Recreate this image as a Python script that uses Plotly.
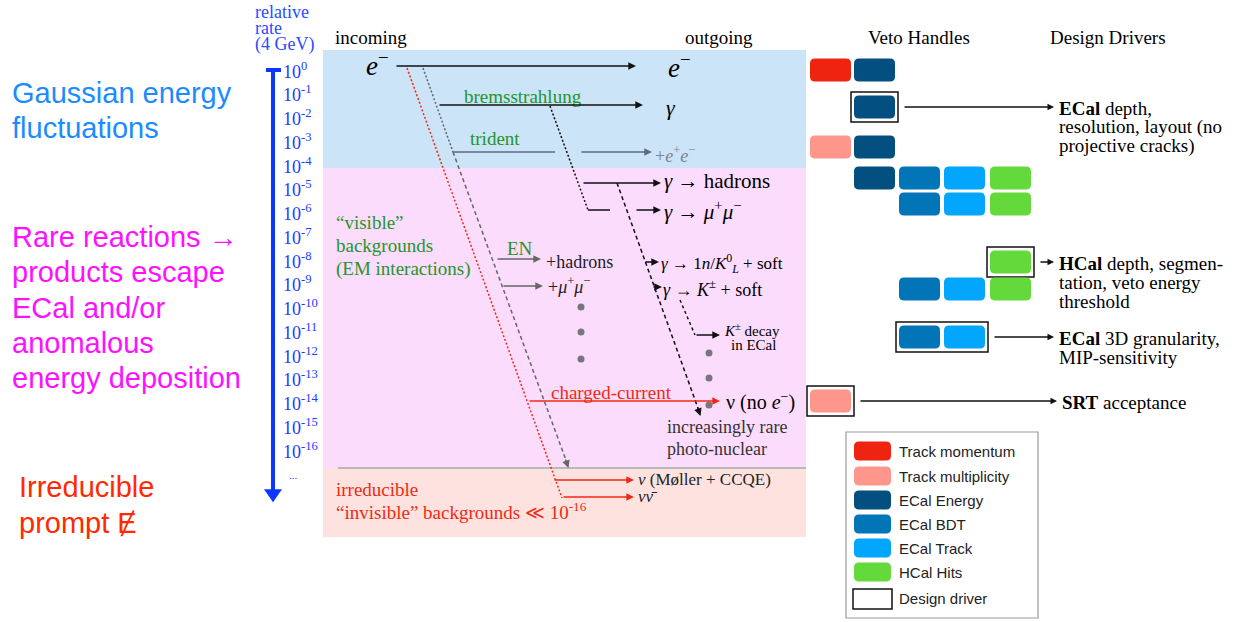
import plotly.graph_objects as go

W, H = 1241, 622
SERIF = "Liberation Serif"
SANS = "Liberation Sans"

# ---------------- data ----------------
rate_exponents = list(range(0, -17, -1))
rate_labels = [f"10<sup>{e}</sup>" for e in rate_exponents]
rate_axis_title = ["relative", "rate", "(4 GeV)"]

column_headers = ["incoming", "outgoing", "Veto Handles", "Design Drivers"]

side_notes_blue = ["Gaussian energy", "fluctuations"]
side_notes_magenta = ["Rare reactions \u2192", "products escape", "ECal and/or", "anomalous", "energy deposition"]
side_notes_red = ["Irreducible", "prompt \u0246"]

handle_names = ["Track momentum", "Track multiplicity", "ECal Energy", "ECal BDT", "ECal Track", "HCal Hits"]
handle_colors = ["#ee2410", "#fe968c", "#024f80", "#0275b8", "#03a6fd", "#63d93b"]

# which handle category sits in each slot of each row (None = empty)
veto_row_slots = [
    [0, 2, None, None, None],
    [None, 2, None, None, None],
    [1, 2, None, None, None],
    [None, 2, 3, 4, 5],
    [None, None, 3, 4, 5],
    [None, None, None, None, 5],
    [None, None, 3, 4, 5],
    [None, None, 3, 4, None],
    [1, None, None, None, None],
]
veto_row_framed = [False, True, False, False, False, True, False, True, True]
design_driver_rows = [1, 5, 7, 8]
design_driver_texts = [
    ["<b>ECal</b> depth,", "resolution, layout (no", "projective cracks)"],
    ["<b>HCal</b> depth, segmen-", "tation, veto energy", "threshold"],
    ["<b>ECal</b> 3D granularity,", "MIP-sensitivity"],
    ["<b>SRT</b> acceptance"],
]

# ---------------- layout constants ----------------
veto_row_y = [70, 107, 147, 178, 204, 262, 289, 337, 401]
slot_x = [810, 854, 899, 944, 990]
SLOT_W, SLOT_H = 41, 23

shapes = []
annotations = []


def text(x, y, s, size=19, color="black", family=SERIF, anchor="left", yref="y"):
    annotations.append(dict(x=x, y=y, xref="x", yref=yref, text=s, showarrow=False,
                            xanchor=anchor, yanchor="middle",
                            font=dict(family=family, size=size, color=color)))


def lines_text(x, y0, lines, dy, **kw):
    for i, s in enumerate(lines):
        text(x, y0 + i * dy, s, **kw)


def line(x0, y0, x1, y1, color="#111", width=1.5, dash="solid", yref="y"):
    shapes.append(dict(type="line", xref="x", yref=yref, x0=x0, y0=y0, x1=x1, y1=y1,
                       line=dict(color=color, width=width, dash=dash)))


def arrow(x0, y0, x1, y1, color="#111", width=1.4, size=1.1):
    annotations.append(dict(x=x1, y=y1, ax=x0, ay=y0, xref="x", yref="y", axref="x", ayref="y",
                            text="", showarrow=True, arrowhead=2, arrowsize=size,
                            arrowwidth=width, arrowcolor=color))


def rrect(x0, y0, x1, y1, r, fill, lc=None, lw=0):
    p = (f"M {x0+r},{y0} L {x1-r},{y0} Q {x1},{y0} {x1},{y0+r} L {x1},{y1-r} "
         f"Q {x1},{y1} {x1-r},{y1} L {x0+r},{y1} Q {x0},{y1} {x0},{y1-r} "
         f"L {x0},{y0+r} Q {x0},{y0} {x0+r},{y0} Z")
    shapes.append(dict(type="path", path=p, xref="x", yref="y", fillcolor=fill,
                       line=dict(color=lc if lc else fill, width=lw if lc else 0)))


def rect(x0, y0, x1, y1, fill="rgba(0,0,0,0)", lc="rgba(0,0,0,0)", lw=0, layer="above"):
    shapes.append(dict(type="rect", xref="x", yref="y", x0=x0, y0=y0, x1=x1, y1=y1,
                       fillcolor=fill, line=dict(color=lc, width=lw), layer=layer))


# ---------------- background regions ----------------
rect(323, 50, 806, 168, fill="#cce4f8", layer="below")
rect(323, 168, 806, 468, fill="#fcdcfd", layer="below")
rect(323, 468, 806, 537, fill="#fde2e0", layer="below")
line(338, 468, 806, 468, color="#b8b8b8", width=2)

# ---------------- rate axis (y2 = log10 rate) ----------------
AXC = "#0a36ff"
line(273, 0.05, 273, -17.75, color=AXC, width=4, yref="y2")
line(266, 0, 281, 0, color=AXC, width=4, yref="y2")
shapes.append(dict(type="path", xref="x", yref="y2",
                   path="M 264,-17.65 L 282,-17.65 L 273,-18.2 Z",
                   fillcolor=AXC, line=dict(color=AXC, width=0)))
for e, lab in zip(rate_exponents, rate_labels):
    text(281, e, lab, size=18, color="#1a3cff", yref="y2")
text(287, -17.05, "...", size=11, color="#1a3cff", yref="y2")
lines_text(253, 12, rate_axis_title, 16, size=18, color="#2a4cff")

# ---------------- headers ----------------
for x, s in zip([333, 683, 866, 1048], column_headers):
    text(x, 37, s, size=19)

# ---------------- side notes ----------------
lines_text(10, 93, side_notes_blue, 35, size=29, color="#1a8cff", family=SANS)
lines_text(10, 237, side_notes_magenta, 35.3, size=29, color="#ff10ff", family=SANS)
lines_text(17, 487, side_notes_red, 35.5, size=29, color="#ff2a00", family=SANS)

# ---------------- process diagram ----------------
RED = "#f02a12"
GREEN = "#23952a"
GREY = "#666"
# slanted propagation lines
line(407, 68, 562, 498, color=RED, width=1.5, dash="2px,2px")
line(423, 68, 453, 152, color=GREY, width=1.5, dash="2px,2px")
line(453, 152, 567, 463, color=GREY, width=1.5, dash="4px,3px")
arrow(565, 458, 568.5, 468, color=GREY)
line(550, 106, 588, 210, color="#111", width=1.5, dash="2px,2px")
line(617, 183, 699, 411, color="#111", width=1.5, dash="4px,3px")
arrow(697, 406, 700.5, 416, color="#111")
line(680, 300, 695, 335, color="#111", width=1.5, dash="3px,3px")

# primary electron
text(364, 64, "<i>e</i><sup>\u2212</sup>", size=27)
arrow(395, 66, 636, 66)
text(666, 66, "<i>e</i><sup>\u2212</sup>", size=27)
# bremsstrahlung
text(462, 96, "bremsstrahlung", size=19, color=GREEN)
arrow(438, 105, 643, 105)
text(664, 107, "<i>\u03b3</i>", size=22)
# trident
text(468, 138, "trident", size=19, color=GREEN)
line(453, 152, 555, 152, color="#5b6b82", width=1.5)
arrow(580, 152, 652, 152, color="#5b6b82")
text(653, 154, "+<i>e</i><sup>+</sup><i>e</i><sup>\u2212</sup>", size=18, color="#7a8392")
# photon reactions
arrow(582, 183, 661, 183)
text(662, 181, "<i>\u03b3</i> \u2192 hadrons", size=21)
line(588, 210, 610, 210)
arrow(635, 210, 661, 210)
text(662, 210, "<i>\u03b3</i> \u2192 <i>\u03bc</i><sup>+</sup><i>\u03bc</i><sup>\u2212</sup>", size=21)
arrow(644, 262, 659, 262)
text(659, 263, "<i>\u03b3</i> \u2192 1<i>n</i>/<i>K</i><sup>0</sup><sub><i>L</i></sub> + soft", size=17)
arrow(652, 287, 662, 287)
text(661, 288, "<i>\u03b3</i> \u2192 <i>K</i><sup>\u00b1</sup> + soft", size=18)
arrow(695, 335, 720, 335)
text(722, 330, "<i>K</i><sup>\u00b1</sup> decay", size=15)
text(729, 345, "in ECal", size=15)
# electro-nuclear
lines_text(334, 222, ["\u201cvisible\u201d", "backgrounds", "(EM interactions)"], 23.3, size=19, color=GREEN)
text(505, 248, "EN", size=19, color=GREEN)
arrow(496, 259, 541, 259, color=GREY)
arrow(502, 286, 543, 286, color=GREY)
text(544, 262, "+hadrons", size=18, color="#222")
text(546, 285, "+<i>\u03bc</i><sup>+</sup><i>\u03bc</i><sup>\u2212</sup>", size=18, color="#222")
# ellipsis dots
dot_x = [581, 581, 581, 709, 709, 709]
dot_y = [307, 332, 359, 353, 378, 405]
for x, y in zip(dot_x, dot_y):
    shapes.append(dict(type="circle", xref="x", yref="y", x0=x - 3.5, y0=y - 3.5, x1=x + 3.5, y1=y + 3.5,
                       fillcolor="#77757e", line=dict(width=0)))
# charged current
text(549, 392, "charged-current", size=19, color=RED)
arrow(528, 401, 720, 401, color=RED)
text(724, 401, "\u03bd (no <i>e</i><sup>\u2212</sup>)", size=20)
lines_text(665, 427, ["increasingly rare", "photo-nuclear"], 22, size=18, color="#333")
# irreducible
arrow(553, 480, 634, 480, color=RED)
arrow(562, 497, 634, 497, color=RED)
text(636, 479, "<i>\u03bd</i> (M\u00f8ller + CCQE)", size=17, color="#222")
text(636, 496, "<i>\u03bd\u03bd\u0304</i>", size=17, color="#222")
text(334, 489, "irreducible", size=19, color=RED)
text(334, 511, "\u201cinvisible\u201d backgrounds \u226a 10<sup>-16</sup>", size=19, color=RED)

# ---------------- veto handles ----------------
for row, (slots, framed, yc) in enumerate(zip(veto_row_slots, veto_row_framed, veto_row_y)):
    used = []
    for s, cat in enumerate(slots):
        if cat is None:
            continue
        used.append(s)
        rrect(slot_x[s], yc - SLOT_H / 2, slot_x[s] + SLOT_W, yc + SLOT_H / 2, 5, handle_colors[cat])
    if framed:
        x0 = slot_x[min(used)] - 3
        x1 = slot_x[max(used)] + SLOT_W + 3
        rect(x0, yc - SLOT_H / 2 - 3.5, x1, yc + SLOT_H / 2 + 3.5, lc="#111", lw=1.5)

for row, lines in zip(design_driver_rows, design_driver_texts):
    slots = [s for s, c in enumerate(veto_row_slots[row]) if c is not None]
    xr = slot_x[max(slots)] + SLOT_W + 3
    yc = veto_row_y[row]
    tx = 1057 if row != 8 else 1060
    arrow(xr + 5, yc, tx - 3, yc, width=1.3, size=1.0)
    lines_text(tx, yc + 1, lines, 19, size=19)

# ---------------- legend ----------------
rect(846, 432, 1038, 618, lc="#9a9a9a", lw=1.2)
leg_y = [451, 476, 500, 524, 548, 572]
for name, col, y in zip(handle_names, handle_colors, leg_y):
    rrect(854, y - 9.5, 891, y + 9.5, 5, col)
    text(897, y, name, size=15, color="#222", family=SANS)
rect(853, 589, 892, 609, fill="white", lc="#111", lw=1.5)
text(897, 598, "Design driver", size=15, color="#222", family=SANS)

fig = go.Figure()
fig.update_layout(
    width=W, height=H,
    margin=dict(l=0, r=0, t=0, b=0),
    paper_bgcolor="white", plot_bgcolor="white",
    xaxis=dict(range=[0, W], visible=False, fixedrange=True),
    yaxis=dict(range=[H, 0], visible=False, fixedrange=True),
    yaxis2=dict(range=[(70 - H) / 23.75, 70 / 23.75], overlaying="y", showgrid=False,
                zeroline=False, showticklabels=False, showline=False, ticks="", fixedrange=True),
    shapes=shapes,
    annotations=annotations,
    showlegend=False,
)
# invisible traces to make both axes active
fig.add_trace(go.Scatter(x=[0], y=[0], mode="markers", marker=dict(opacity=0), hoverinfo="skip", yaxis="y2"))
fig.add_trace(go.Scatter(x=[0], y=[0], mode="markers", marker=dict(opacity=0), hoverinfo="skip"))

fig.write_html("out.html", config={"displayModeBar": False},
               post_script="document.body.style.margin='0';")
